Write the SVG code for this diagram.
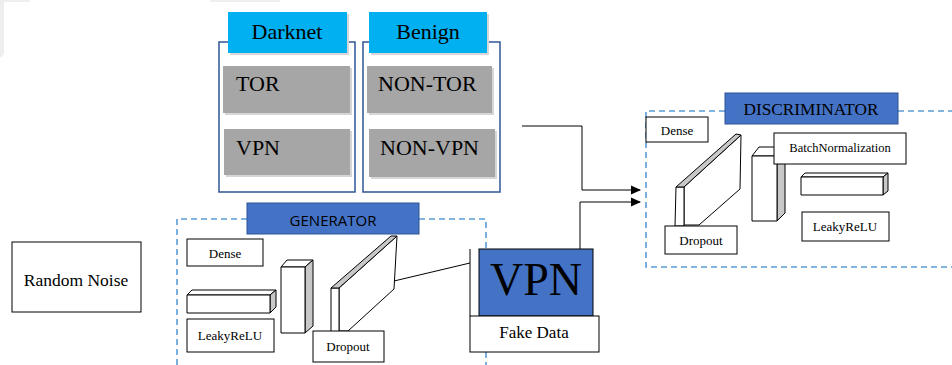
<svg xmlns="http://www.w3.org/2000/svg" width="952" height="365" viewBox="0 0 952 365">
<style>
.box{fill:#fff;stroke:#000;stroke-width:1}
.frame{fill:none;stroke:#2F5597;stroke-width:1.5}
.dash{fill:none;stroke:#5B9BD5;stroke-width:1.6;stroke-dasharray:6 4}
.cyan{fill:#00B0F0}
.gray{fill:#A6A6A6}
.shadow{fill:#d6d6d6}
.hdr{fill:#4472C4;stroke:#2F5597;stroke-width:1}
.face{fill:#fff;stroke:#000;stroke-width:1;stroke-linejoin:round}
.side{fill:#C8C8C8;stroke:#000;stroke-width:1;stroke-linejoin:round}
.conn{fill:none;stroke:#000;stroke-width:1}
</style>
<defs>
<marker id="arr" markerWidth="10" markerHeight="10" refX="9" refY="5" orient="auto" markerUnits="userSpaceOnUse">
<path d="M0,0.5 L10,5 L0,9.5 Z" fill="#000"/>
</marker>
</defs>
<rect width="952" height="365" fill="#fff"/>
<g id="bg-corner">
<path d="M0,0 H30 V2 H4 V54 L0,58 Z" fill="#eeeeee"/>
<rect x="210" y="0" width="70" height="2" fill="#eeeeee"/>
</g>

<g font-family="Liberation Serif, DejaVu Serif, serif" fill="#000">
<g id="darknet">
<rect x="219" y="42" width="136" height="150" class="frame"/>
<rect x="230" y="14" width="119" height="41" class="shadow"/>
<rect x="228" y="12" width="119" height="41" class="cyan"/>
<text x="287" y="39" font-size="22" text-anchor="middle">Darknet</text>
<rect x="225" y="68" width="127" height="47" class="shadow"/>
<rect x="223" y="66" width="127" height="47" class="gray"/>
<text x="236" y="91" font-size="22">TOR</text>
<rect x="226" y="131" width="126" height="46" class="shadow"/>
<rect x="224" y="129" width="126" height="46" class="gray"/>
<text x="236" y="155" font-size="22">VPN</text>
</g>

<g id="benign">
<rect x="363" y="42" width="137" height="150" class="frame"/>
<rect x="371" y="14" width="118" height="41" class="shadow"/>
<rect x="369" y="12" width="118" height="41" class="cyan"/>
<text x="428" y="39" font-size="22" text-anchor="middle">Benign</text>
<rect x="369" y="68" width="125" height="47" class="shadow"/>
<rect x="367" y="66" width="125" height="47" class="gray"/>
<text x="378" y="91" font-size="22">NON-TOR</text>
<rect x="371" y="131" width="126" height="48" class="shadow"/>
<rect x="369" y="129" width="126" height="48" class="gray"/>
<text x="380" y="155" font-size="22">NON-VPN</text>
</g>

<g id="random-noise">
<rect x="12" y="242" width="129" height="70" class="box" stroke="#555"/>
<text x="76" y="286" font-size="17.5" text-anchor="middle">Random Noise</text>
</g>

<g id="generator">
<path d="M177,365 V219 H247 M419,219 H486 V365" class="dash"/>
<rect x="247" y="203" width="172" height="31" class="hdr"/>
<text x="333" y="226" font-family="Open Sans, Liberation Sans, sans-serif" font-size="15" text-anchor="middle">GENERATOR</text>
<rect x="187" y="239" width="76" height="27" class="box"/>
<text x="225" y="258" font-size="13" text-anchor="middle">Dense</text>
<path d="M187,295 L192,290 L276,290 L270,295 Z" class="face"/>
<path d="M270,295 L276,290 L276,307 L270,313 Z" class="side"/>
<rect x="187" y="295" width="83" height="18" class="face"/>
<rect x="187" y="319" width="87" height="33" class="box"/>
<text x="230" y="340" font-size="13" text-anchor="middle">LeakyReLU</text>
<path d="M281,267 L287,260 L313,260 L305,267 Z" class="face"/>
<path d="M305,267 L313,260 L313,326 L305,333 Z" class="side"/>
<rect x="281" y="267" width="24" height="66" class="face"/>
<path d="M339,288 L397,236 L394,289 L348,331 L339,331 Z" class="face"/>
<path d="M331,288 L339,288 L339,332 L331,332 Z" class="face"/>
<path d="M331,288 L391,236 L397,236 L339,288 Z" class="side"/>
<rect x="313" y="331" width="71" height="31" class="box"/>
<text x="348" y="351" font-size="13" text-anchor="middle">Dropout</text>
</g>

<g id="fake-data">
<rect x="479" y="249" width="114" height="67" fill="#4472C4" stroke="#000" stroke-width="1"/>
<text x="536" y="295" font-size="46" text-anchor="middle">VPN</text>
<rect x="470" y="316" width="129" height="36" class="box"/>
<text x="534" y="338" font-size="17" text-anchor="middle">Fake Data</text>
</g>

<g id="discriminator">
<path d="M725,111 H646 V267 H952 M898,111 H952" class="dash"/>
<rect x="725" y="93" width="173" height="31" class="hdr"/>
<text x="811" y="115" font-size="17.3" text-anchor="middle">DISCRIMINATOR</text>
<rect x="646" y="117" width="62" height="25" class="box"/>
<text x="677" y="135" font-size="13" text-anchor="middle">Dense</text>
<path d="M684,187 L741,135 L740,189 L699,225 L684,225 Z" class="face"/>
<path d="M676,187 L684,187 L684,226 L675,226 Z" class="face"/>
<path d="M676,187 L736,134 L741,135 L684,187 Z" class="side"/>
<path d="M752,156 L759,147 L785,147 L777,156 Z" class="face"/>
<path d="M777,156 L785,147 L785,213 L777,221 Z" class="side"/>
<rect x="752" y="156" width="25" height="65" class="face"/>
<rect x="774" y="133" width="132" height="31" class="box"/>
<text x="840" y="152" font-size="12.5" text-anchor="middle">BatchNormalization</text>
<path d="M801,177 L805,173 L888,173 L883,177 Z" class="face"/>
<path d="M883,177 L888,173 L888,191 L883,195 Z" class="side"/>
<rect x="801" y="177" width="82" height="18" class="face"/>
<rect x="802" y="212" width="87" height="29" class="box"/>
<text x="845" y="231" font-size="13" text-anchor="middle">LeakyReLU</text>
<rect x="665" y="226" width="72" height="28" class="box"/>
<text x="701" y="245" font-size="13" text-anchor="middle">Dropout</text>
</g>
</g>

<g id="connectors">
<path d="M394,281 L470,263" class="conn" stroke="#333"/>
<path d="M470,249 V316" class="conn" stroke="#555"/>
<path d="M522,126 H582 V190 H640" class="conn" stroke="#333" marker-end="url(#arr)"/>
<path d="M580,249 V202 H640" class="conn" stroke="#555" marker-end="url(#arr)"/>
</g>
</svg>
